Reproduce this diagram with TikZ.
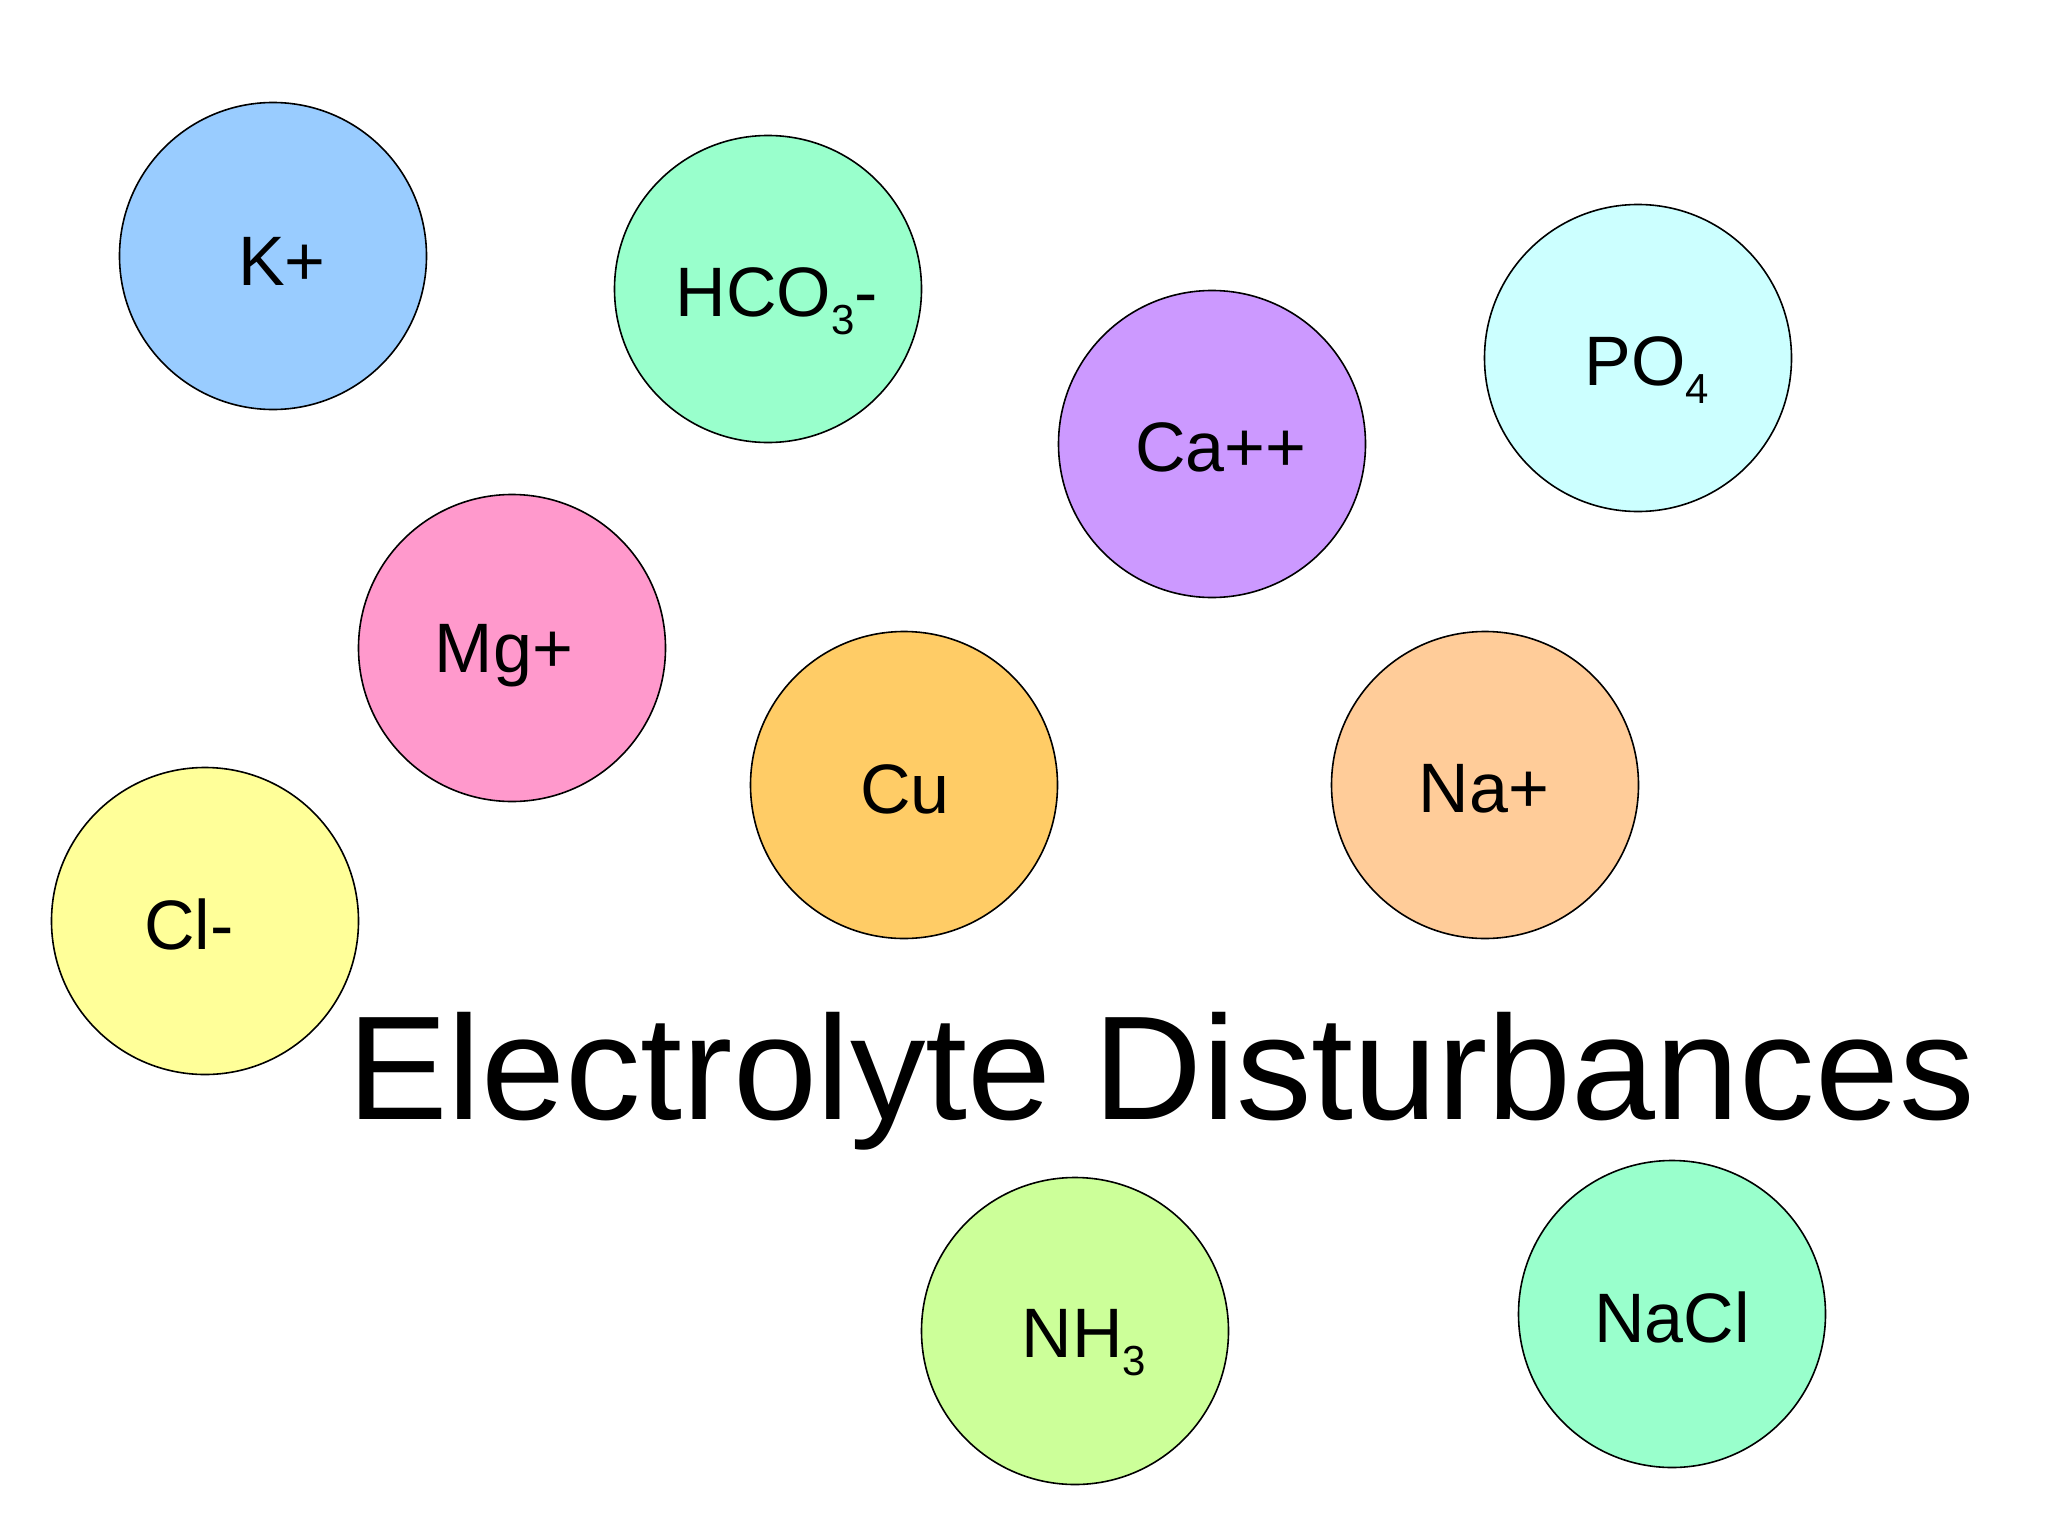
\documentclass[tikz,border=0pt]{standalone}
\usepackage{fontspec}
\setmainfont{Liberation Sans}
\definecolor{cK}{HTML}{99CCFF}
\definecolor{cHCO}{HTML}{99FFCC}
\definecolor{cCa}{HTML}{CC99FF}
\definecolor{cPO}{HTML}{CCFFFF}
\definecolor{cMg}{HTML}{FF99CC}
\definecolor{cCu}{HTML}{FFCC66}
\definecolor{cNa}{HTML}{FFCC99}
\definecolor{cCl}{HTML}{FFFF99}
\definecolor{cNH}{HTML}{CCFF99}
\definecolor{cNaCl}{HTML}{99FFCC}
\newcommand{\subs}[1]{\raisebox{-18pt}{\fontsize{42}{46}\selectfont #1}}
\tikzset{
  ion/.style={circle, draw=black, line width=1.6pt, minimum size=307pt, inner sep=0pt},
  ionlbl/.style={inner sep=0pt, font=\fontsize{70}{80}\selectfont, text=black},
}
\begin{document}
\begin{tikzpicture}[x=1pt,y=-1pt]
\useasboundingbox (0,0) rectangle (2048,1536);
\fill[white] (0,0) rectangle (2048,1536);
\node[ion, fill=cK] (k) at (273,256) {};
\node[ion, fill=cHCO] (hco) at (768,289) {};
\node[ion, fill=cCa] (ca) at (1212,444) {};
\node[ion, fill=cPO] (po) at (1638,358) {};
\node[ion, fill=cMg] (mg) at (512,648) {};
\node[ion, fill=cCu] (cu) at (904,785) {};
\node[ion, fill=cNa] (na) at (1485,785) {};
\node[ion, fill=cCl] (cl) at (205,921) {};
\node[ion, fill=cNH] (nh) at (1075,1331) {};
\node[ion, fill=cNaCl] (nacl) at (1672,1314) {};
\node[ionlbl] (kt) at ([shift={(9,5)}]k.center) {K+};
\node[ionlbl] (hcot) at ([shift={(9,12)}]hco.center) {HCO\subs{3}-};
\node[ionlbl] (cat) at ([shift={(9,3)}]ca.center) {Ca++};
\node[ionlbl] (pot) at ([shift={(9,12)}]po.center) {PO\subs{4}};
\node[ionlbl] (mgt) at ([shift={(-8,8)}]mg.center) {Mg+};
\node[ionlbl] (cut) at ([shift={(1,4)}]cu.center) {Cu};
\node[ionlbl] (nat) at ([shift={(-1,4)}]na.center) {Na+};
\node[ionlbl] (clt) at ([shift={(-16,3)}]cl.center) {Cl-};
\node[ionlbl] (nht) at ([shift={(9,12)}]nh.center) {NH\subs{3}};
\node[ionlbl] (naclt) at ([shift={(0,3)}]nacl.center) {NaCl};
\node[anchor=base west, inner sep=0pt, xscale=1.02, font=\fontsize{148}{160}\selectfont] (title) at (347,1119) {Electrolyte Disturbances};
\end{tikzpicture}
\end{document}
